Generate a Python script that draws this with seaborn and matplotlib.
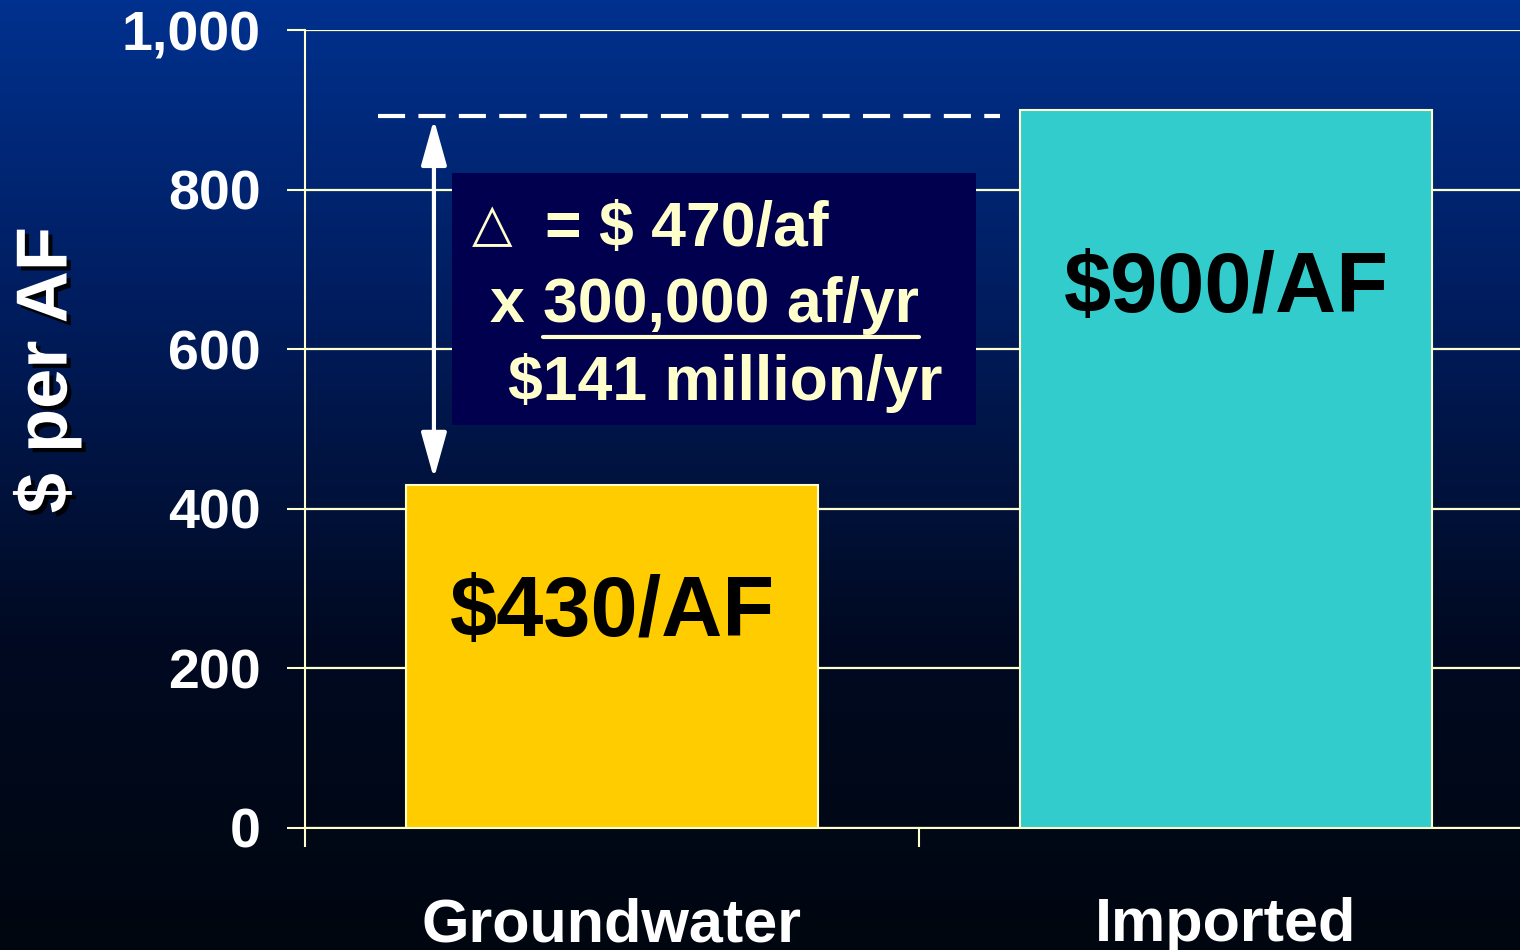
import numpy as np
import matplotlib
matplotlib.use("Agg")
import matplotlib.pyplot as plt
import matplotlib.patheffects as pe
from matplotlib.colors import LinearSegmentedColormap
from matplotlib.patches import Rectangle
from matplotlib.lines import Line2D
from matplotlib.ticker import FuncFormatter
import seaborn as sns

# data
categories = ["Groundwater", "Imported"]
costs = [430, 900]
bar_labels = ["$430/AF", "$900/AF"]
bar_colors = ["#FFCC00", "#33CCCC"]
yticks = [0, 200, 400, 600, 800, 1000]
delta_per_af = costs[1] - costs[0]
volume_afy = 300000
note_lines = ["= $ %d/af" % delta_per_af,
              "300,000 af/yr",
              "$%d million/yr" % round(delta_per_af * volume_afy / 1e6)]

LINE = "#FFFFCC"

sns.set_style("white")
plt.rcParams["font.family"] = ["Liberation Sans", "DejaVu Sans"]
plt.rcParams["font.weight"] = "bold"

fig = plt.figure(figsize=(15.2, 9.5), dpi=100)

# gradient background
bg = fig.add_axes([0, 0, 1, 1], zorder=-10)
cmap = LinearSegmentedColormap.from_list("bg", ["#00318E", "#001C5C", "#000A22", "#00060F"])
bg.imshow(np.linspace(0, 1, 256).reshape(-1, 1), aspect="auto", cmap=cmap,
          extent=[0, 1, 0, 1])
bg.axis("off")

ax = fig.add_axes([305 / 1520, 122 / 950, 1228 / 1520, 798 / 950])
ax.set_facecolor("none")

sns.barplot(x=categories, y=costs, hue=categories, palette=bar_colors,
            saturation=1, width=0.67, edgecolor=LINE, linewidth=1.5,
            legend=False, ax=ax, zorder=3)

ax.set_xlim(-0.5, 1.5)
ax.set_ylim(0, 1000)
ax.set_yticks(yticks)
ax.yaxis.set_major_formatter(FuncFormatter(lambda v, p: "{:,.0f}".format(v)))
ax.grid(axis="y", color=LINE, lw=1.6, zorder=0)
ax.set_axisbelow(True)

# category boundaries as major ticks, names on minor ticks
ax.set_xticks([-0.5, 0.5, 1.5])
ax.set_xticklabels([])
ax.set_xticks([0, 1], minor=True)
ax.set_xticklabels(categories, minor=True)
ax.tick_params(axis="x", which="major", bottom=True, length=14, width=1.5,
               color=LINE, direction="out")
ax.tick_params(axis="x", which="minor", bottom=True, length=0, pad=50,
               labelsize=44, labelcolor="white")
ax.tick_params(axis="y", left=True, length=13, width=1.5, color=LINE,
               direction="out", pad=19, labelsize=40, labelcolor="white")
ax.set_xlabel("")
ax.set_ylabel("")

for side in ["top", "right"]:
    ax.spines[side].set_visible(False)
for side in ["left", "bottom"]:
    ax.spines[side].set_color(LINE)
    ax.spines[side].set_linewidth(1.5)

# bar value labels
label_y = [240, 647]
for i, (txt, y) in enumerate(zip(bar_labels, label_y)):
    ax.text(i, y, txt, ha="center", va="baseline", fontsize=61,
            fontweight="bold", color="black", zorder=5)

# dashed reference line and difference arrow
ax.hlines(costs[1] - 8, -0.381, 0.632, colors="white", lw=3,
          linestyles=(0, (6.5, 3.2)), zorder=4)
ax.annotate("", xy=(-0.29, costs[0] + 8), xytext=(-0.29, costs[1] - 12),
            arrowprops=dict(arrowstyle="<|-|>,head_length=1.0,head_width=0.28",
                            color="white", lw=3, mutation_scale=28,
                            shrinkA=0, shrinkB=0),
            zorder=4)

# annotation box
ax.add_patch(Rectangle((-0.261, 505), 0.854, 316, facecolor="#00004E",
                       edgecolor="none", zorder=4))
txt_kw = dict(ha="left", va="baseline", fontsize=45, fontweight="bold",
              color=LINE, zorder=5)
ax.text(-0.228, 737, "\u25B3", ha="left", va="baseline", fontsize=38,
        fontweight="normal", family="DejaVu Sans", color=LINE, zorder=5)
ax.text(-0.109, 729, note_lines[0], **txt_kw)
ax.text(-0.199, 634, "x", **txt_kw)
t_under = ax.text(-0.1124, 634, note_lines[1], **txt_kw)
ax.text(-0.1694, 536, note_lines[2], **txt_kw)

fig.canvas.draw()
bb = t_under.get_window_extent()
inv = fig.transFigure.inverted()
(x0, y0), (x1, _) = inv.transform([(bb.x0, bb.y0 - 2), (bb.x1, bb.y0 - 2)])
fig.add_artist(Line2D([x0, x1], [y0, y0], color=LINE, lw=3, zorder=6))

# y axis title with drop shadow
fig.text(47 / 1520, (950 - 370) / 950, "$ per AF", rotation=90, ha="center",
         va="center", fontsize=52, fontweight="bold", color="white",
         path_effects=[pe.withSimplePatchShadow(offset=(3, -3), shadow_rgbFace="black", alpha=0.9)])

fig.savefig("out.png", dpi=100)
